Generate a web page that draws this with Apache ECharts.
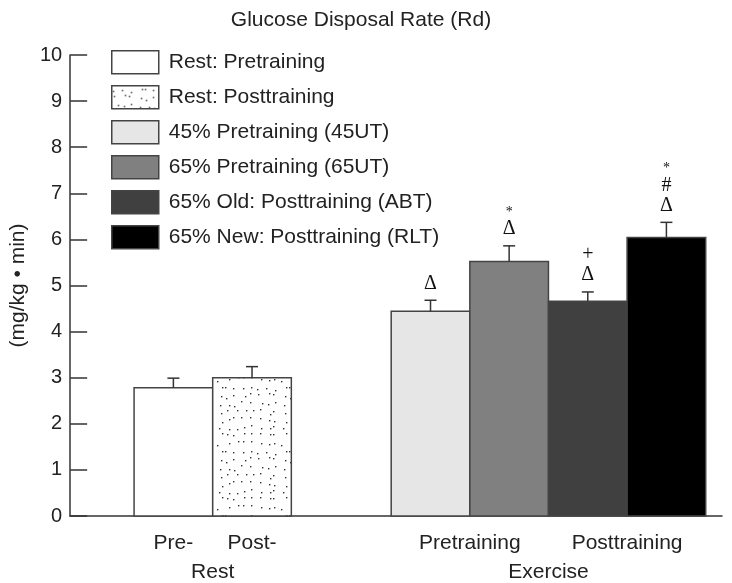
<!DOCTYPE html>
<html>
<head>
<meta charset="utf-8">
<script src="https://cdn.jsdelivr.net/npm/echarts@6/dist/echarts.min.js"></script>
<style>
html,body{margin:0;padding:0;background:#fff;}
#chart{width:732px;height:583px;}
</style>
</head>
<body>
<div id="chart"></div>
<script>
// ---- data ----
const categories = ['Rest: Pretraining', 'Rest: Posttraining', '45% Pretraining (45UT)', '65% Pretraining (65UT)', '65% Old: Posttraining (ABT)', '65% New: Posttraining (RLT)'];
const means = [2.78, 3.00, 4.44, 5.52, 4.66, 6.04];
const errors = [0.21, 0.24, 0.24, 0.34, 0.20, 0.33];
const marks = [[], [], ['Δ'], ['Δ', '*'], ['Δ', '+'], ['Δ', '#', '*']];
const groupOf = [0, 0, 1, 1, 1, 1];
const barLabels = ['Pre-', 'Post-', 'Pretraining', 'Posttraining'];
const groupLabels = ['Rest', 'Exercise'];
const yTicks = [0, 1, 2, 3, 4, 5, 6, 7, 8, 9, 10];

// ---- layout (in bar widths along a hidden value axis) ----
const groupStart = [0.813, 4.083];
const xMax = 8.29;
const centers = [];
const counters = [0, 0];
categories.forEach((c, i) => {
  const g = groupOf[i];
  centers.push(groupStart[g] + counters[g] + 0.5);
  counters[g]++;
});
const barLabelPos = [centers[0], centers[1], (centers[2] + centers[3]) / 2, (centers[4] + centers[5]) / 2];
const groupLabelPos = [(centers[0] + centers[1]) / 2, (centers[2] + centers[5]) / 2];

// dotted pattern (deterministic jittered grid)
function makeDots() {
  const c = document.createElement('canvas');
  c.width = 64; c.height = 64;
  const ctx = c.getContext('2d');
  ctx.fillStyle = '#fff';
  ctx.fillRect(0, 0, 64, 64);
  ctx.fillStyle = '#333';
  let s = 987654;
  const next = () => { s = (s * 1103515245 + 12345) % 2147483648; return s / 2147483648; };
  for (let gy = 0; gy < 8; gy++) {
    for (let gx = 0; gx < 8; gx++) {
      const x = gx * 8 + 1 + Math.floor(next() * 6), y = gy * 8 + 1 + Math.floor(next() * 6);
      ctx.fillRect(x, y, 1.4, 1.4);
    }
  }
  return c;
}
const dotPattern = { image: makeDots(), repeat: 'repeat' };
const fills = ['#ffffff', dotPattern, '#e6e6e6', '#808080', '#404040', '#000000'];
const strokeCol = '#444';
const font = 'Liberation Sans, Arial, sans-serif';

function renderItem(params, api) {
  const si = params.seriesIndex;
  const x = api.value(0), m = api.value(1), e = api.value(2);
  const base = api.coord([x, 0]);
  const top = api.coord([x, m]);
  const et = api.coord([x, m + e]);
  const w = api.size([1, 0])[0];
  const children = [
    { type: 'rect', shape: { x: base[0] - w / 2, y: top[1], width: w, height: base[1] - top[1] },
      style: { fill: fills[si], stroke: strokeCol, lineWidth: 1.5 } },
    { type: 'line', shape: { x1: top[0], y1: top[1], x2: et[0], y2: et[1] }, style: { stroke: '#333', lineWidth: 1.5 } },
    { type: 'line', shape: { x1: et[0] - 6, y1: et[1], x2: et[0] + 6, y2: et[1] }, style: { stroke: '#333', lineWidth: 1.5 } }
  ];
  marks[si].forEach((t, k) => {
    const small = t === '*';
    children.push({ type: 'text', x: et[0], y: et[1] - 17 - 20 * k + (small ? 3 : 0),
      style: { text: t, fill: '#111', font: (small ? '14px' : '20px') + ' "Liberation Serif", "DejaVu Serif", serif',
        align: 'center', verticalAlign: 'middle' } });
  });
  return { type: 'group', children };
}

const series = categories.map((name, i) => ({
  name,
  type: 'custom',
  renderItem,
  itemStyle: { color: fills[i], borderColor: strokeCol, borderWidth: 1.5 },
  data: [[centers[i], means[i], errors[i]]],
  encode: { x: 0, y: 1 },
  silent: true
}));

const chart = echarts.init(document.getElementById('chart'), null, { renderer: 'canvas' });
chart.setOption({
  animation: false,
  backgroundColor: '#fff',
  title: { text: 'Glucose Disposal Rate (Rd)', left: 356, top: 5, textAlign: 'center',
    textStyle: { fontFamily: font, fontSize: 21, fontWeight: 'normal', color: '#222' } },
  legend: {
    orient: 'vertical', left: 111, top: 50, padding: 0, itemWidth: 47, itemHeight: 23, itemGap: 10.5,
    icon: 'rect', selectedMode: false,
    textStyle: { fontFamily: font, fontSize: 21, color: '#222', padding: [0, 0, 0, 5] },
    data: categories.map((n, i) => ({ name: n, itemStyle: { color: fills[i], borderColor: strokeCol, borderWidth: 1.5 } }))
  },
  grid: { left: 68, right: 10, top: 55, bottom: 61, containLabel: false },
  xAxis: [
    { type: 'value', min: 0, max: xMax, splitLine: { show: false },
      axisLine: { show: true, onZero: false, lineStyle: { color: '#333', width: 1.5 } },
      axisTick: { show: false },
      axisLabel: { show: true, customValues: barLabelPos, margin: 17,
        formatter: (v) => { const i = barLabelPos.findIndex(p => Math.abs(p - v) < 1e-6); return i >= 0 ? barLabels[i] : ''; },
        fontFamily: font, fontSize: 21, color: '#222' } },
    { type: 'value', min: 0, max: xMax, position: 'bottom', splitLine: { show: false },
      axisLine: { show: false }, axisTick: { show: false },
      axisLabel: { show: true, customValues: groupLabelPos, margin: 46,
        formatter: (v) => { const i = groupLabelPos.findIndex(p => Math.abs(p - v) < 1e-6); return i >= 0 ? groupLabels[i] : ''; },
        fontFamily: font, fontSize: 21, color: '#222' } }
  ],
  yAxis: {
    type: 'value', min: yTicks[0], max: yTicks[yTicks.length - 1], interval: 1,
    name: '(mg/kg • min)', nameLocation: 'middle', nameGap: 37, nameRotate: 90,
    nameTextStyle: { fontFamily: font, fontSize: 21, color: '#222' },
    splitLine: { show: false },
    axisLine: { show: true, lineStyle: { color: '#333', width: 1.5 } },
    axisTick: { show: true, inside: true, length: 17, lineStyle: { color: '#333', width: 1.5 } },
    axisLabel: { margin: 8, fontFamily: font, fontSize: 20, color: '#222' }
  },
  series
});
</script>
</body>
</html>
